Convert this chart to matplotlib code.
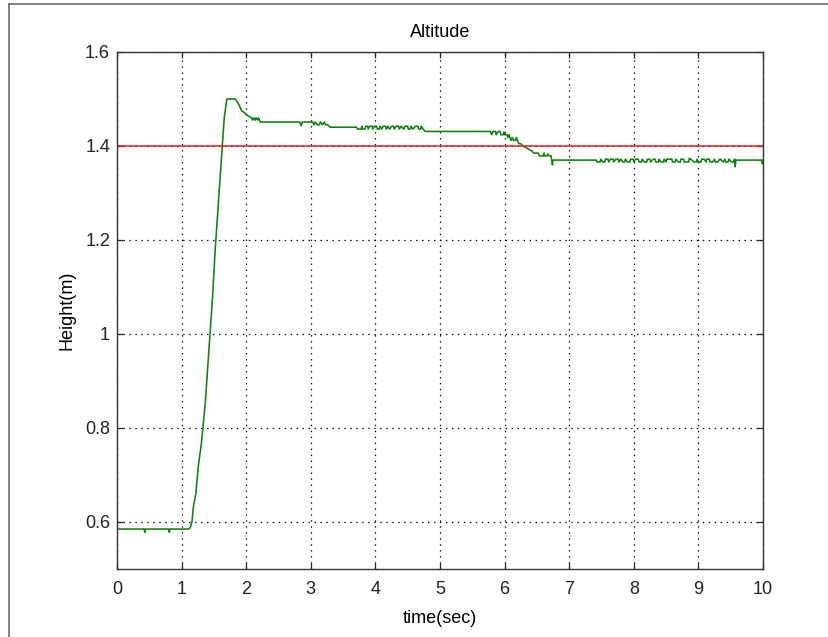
import matplotlib
matplotlib.use("Agg")
import matplotlib.pyplot as plt
from matplotlib.lines import Line2D

plt.rcParams['font.family'] = ['Liberation Sans', 'DejaVu Sans']
plt.rcParams['lines.scale_dashes'] = False

# ---------------- data ----------------
time_s = [
    0.00, 0.42, 0.43, 0.44, 0.80, 0.81, 0.82, 1.11,
    1.14, 1.16, 1.18, 1.22, 1.26, 1.30, 1.33, 1.37, 1.40, 1.44, 1.48, 1.52,
    1.56, 1.60, 1.63, 1.66, 1.70, 1.83, 1.88, 1.93, 1.98, 2.02, 2.08,
    2.10, 2.11, 2.14, 2.15, 2.18, 2.19, 2.22,
    2.83, 2.85, 2.87, 3.03, 3.05, 3.07, 3.10, 3.13, 3.15, 3.18, 3.21, 3.23, 3.26, 3.30,
    3.71, 3.72, 3.78, 3.79, 3.80, 3.84, 3.85, 3.88, 3.89, 3.91, 3.95, 3.96, 3.98,
    4.02, 4.03, 4.06, 4.07, 4.10, 4.12, 4.16, 4.17, 4.19, 4.22, 4.25, 4.28, 4.29,
    4.32, 4.36, 4.37, 4.40, 4.44, 4.46, 4.50, 4.51, 4.54, 4.55, 4.58, 4.62, 4.66,
    4.67, 4.70, 4.71, 4.74, 4.77,
    5.78, 5.80, 5.82, 5.86, 5.87, 5.90, 5.93, 5.94, 5.98, 5.99, 6.00, 6.04, 6.05,
    6.07, 6.08, 6.10, 6.12, 6.14, 6.17, 6.18, 6.20, 6.22, 6.25, 6.28, 6.32, 6.36,
    6.42, 6.45, 6.52, 6.54, 6.60, 6.61, 6.62, 6.66, 6.67, 6.69, 6.72, 6.73, 6.74,
    6.75,
    7.42, 7.43, 7.48, 7.49, 7.52, 7.55, 7.56, 7.60, 7.61, 7.64, 7.68, 7.69, 7.72,
    7.76, 7.77, 7.80, 7.83, 7.86, 7.87, 7.90, 7.94, 7.95, 7.99, 8.00, 8.03, 8.07,
    8.08, 8.12, 8.13, 8.16, 8.20, 8.21, 8.25, 8.26, 8.30, 8.33, 8.34, 8.38, 8.39,
    8.42, 8.46, 8.47, 8.50, 8.51, 8.55, 8.59, 8.60, 8.64, 8.65, 8.69, 8.72, 8.73,
    8.77, 8.78, 8.82, 8.85, 8.86, 8.90, 8.93, 8.97, 8.98, 9.00, 9.04, 9.05, 9.09,
    9.12, 9.13, 9.17, 9.18, 9.22, 9.25, 9.26, 9.30, 9.33, 9.34, 9.38, 9.41, 9.42,
    9.46, 9.47, 9.51, 9.54, 9.56, 9.57, 9.58, 9.60,
    9.98, 9.99, 10.00,
]
height_m = [
    0.585, 0.585, 0.578, 0.585, 0.585, 0.578, 0.585, 0.585,
    0.590, 0.600, 0.630, 0.660, 0.720, 0.760, 0.800, 0.860, 0.920, 1.000, 1.080, 1.180,
    1.260, 1.340, 1.400, 1.460, 1.500, 1.500, 1.490, 1.475, 1.470, 1.465, 1.460,
    1.455, 1.460, 1.455, 1.460, 1.455, 1.460, 1.451,
    1.451, 1.443, 1.451, 1.451, 1.445, 1.451, 1.445, 1.445, 1.451, 1.445, 1.451, 1.445, 1.445, 1.440,
    1.440, 1.436, 1.436, 1.442, 1.436, 1.436, 1.442, 1.442, 1.436, 1.442, 1.442, 1.436, 1.442,
    1.442, 1.436, 1.436, 1.442, 1.436, 1.442, 1.442, 1.436, 1.442, 1.436, 1.442, 1.442, 1.436,
    1.442, 1.442, 1.436, 1.442, 1.436, 1.442, 1.442, 1.436, 1.436, 1.442, 1.436, 1.442, 1.442,
    1.436, 1.436, 1.442, 1.436, 1.431,
    1.431, 1.424, 1.431, 1.431, 1.424, 1.431, 1.431, 1.424, 1.424, 1.430, 1.424, 1.424, 1.418,
    1.424, 1.418, 1.412, 1.418, 1.412, 1.412, 1.418, 1.412, 1.405, 1.405, 1.400, 1.398, 1.394,
    1.390, 1.385, 1.385, 1.379, 1.379, 1.385, 1.379, 1.379, 1.383, 1.379, 1.379, 1.370, 1.360,
    1.370,
    1.370, 1.366, 1.366, 1.372, 1.366, 1.366, 1.372, 1.372, 1.366, 1.372, 1.372, 1.366, 1.372,
    1.372, 1.366, 1.372, 1.366, 1.366, 1.372, 1.366, 1.366, 1.372, 1.372, 1.366, 1.372, 1.372,
    1.366, 1.366, 1.372, 1.366, 1.366, 1.372, 1.372, 1.366, 1.372, 1.372, 1.366, 1.366, 1.372,
    1.366, 1.366, 1.372, 1.366, 1.372, 1.372, 1.372, 1.366, 1.366, 1.372, 1.366, 1.366, 1.372,
    1.372, 1.366, 1.366, 1.366, 1.374, 1.370, 1.366, 1.366, 1.372, 1.366, 1.366, 1.372, 1.372,
    1.366, 1.372, 1.372, 1.366, 1.366, 1.372, 1.366, 1.366, 1.372, 1.372, 1.366, 1.372, 1.366,
    1.366, 1.372, 1.366, 1.366, 1.372, 1.356, 1.370, 1.370,
    1.370, 1.362, 1.370,
]
setpoint = 1.4

x_ticks = [0, 1, 2, 3, 4, 5, 6, 7, 8, 9, 10]
y_ticks = [0.6, 0.8, 1.0, 1.2, 1.4, 1.6]
y_tick_labels = ['0.6', '0.8', '1', '1.2', '1.4', '1.6']

# ---------------- figure ----------------
fig = plt.figure(figsize=(8.29, 6.37), dpi=100)
ax = fig.add_axes([117 / 829, 1 - 569 / 637, 646 / 829, 517 / 637])

ax.plot(time_s, height_m, color='#0f800f', linewidth=1.15)
ax.axhline(setpoint, color='#e02020', linewidth=1.1)

ax.set_xlim(0, 10)
ax.set_ylim(0.5, 1.6)
ax.set_xticks(x_ticks)
ax.set_xticklabels([str(v) for v in x_ticks])
ax.set_yticks(y_ticks)
ax.set_yticklabels(y_tick_labels)

ax.grid(True, color='black', linestyle=(0, (1.0, 3.3)), linewidth=0.9)
ax.tick_params(direction='in', length=4, width=0.9, top=True, right=True,
               labelsize=13, colors='#222222')
ax.tick_params(axis='x', pad=9)
ax.tick_params(axis='y', pad=5)
for s in ax.spines.values():
    s.set_color('#333333')
    s.set_linewidth(1.0)

ax.set_title('Altitude', fontsize=13, pad=11)
ax.set_xlabel('time(sec)', fontsize=13, labelpad=8)
ax.set_ylabel('Height(m)', fontsize=13)
ax.yaxis.set_label_coords(-0.065, 0.5)

# frame lines at the figure's left and top edges
fig.add_artist(Line2D([9 / 829, 9 / 829], [0, 1 - 4 / 637], transform=fig.transFigure,
                      color='#777777', linewidth=1.3))
fig.add_artist(Line2D([9 / 829, 1], [1 - 4 / 637, 1 - 4 / 637], transform=fig.transFigure,
                      color='#777777', linewidth=1.3))

fig.savefig('out.png', dpi=100)
